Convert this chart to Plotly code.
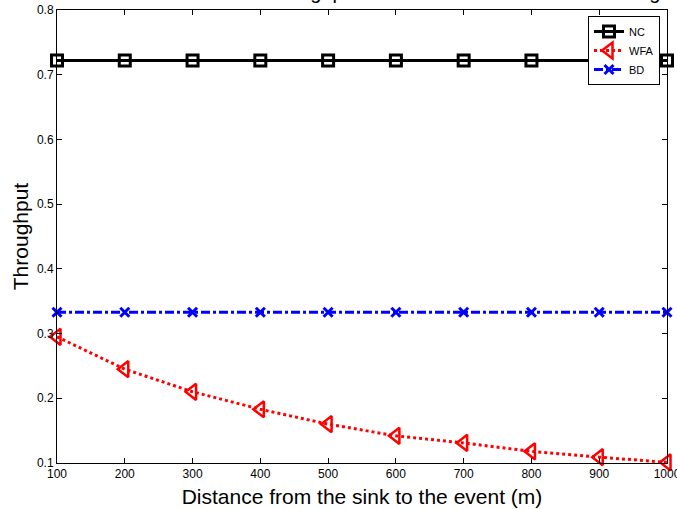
import plotly.graph_objects as go

distance = [100, 200, 300, 400, 500, 600, 700, 800, 900, 1000]
nc = [0.722] * 10
wfa = [0.295, 0.245, 0.210, 0.183, 0.160, 0.142, 0.131, 0.118, 0.109, 0.101]
bd = [0.333] * 10
x_ticks = [100, 200, 300, 400, 500, 600, 700, 800, 900, 1000]
y_ticks = [0.1, 0.2, 0.3, 0.4, 0.5, 0.6, 0.7, 0.8]

FONT = "Liberation Sans, Arial, sans-serif"

fig = go.Figure()
fig.add_trace(go.Scatter(
    x=distance, y=nc, name="NC", mode="lines+markers",
    line=dict(color="black", width=3, dash="solid"),
    marker=dict(symbol="square-open", size=11, color="black", line=dict(width=3)),
    cliponaxis=False))
fig.add_trace(go.Scatter(
    x=distance, y=wfa, name="WFA", mode="lines+markers",
    line=dict(color="red", width=3, dash="dot"),
    marker=dict(symbol="triangle-left-open", size=14, color="red", line=dict(width=2.5)),
    cliponaxis=False))
fig.add_trace(go.Scatter(
    x=distance, y=bd, name="BD", mode="lines+markers",
    line=dict(color="blue", width=3, dash="dashdot"),
    marker=dict(symbol="x-thin-open", size=9, color="blue", line=dict(width=3, color="blue")),
    cliponaxis=False))

fig.add_annotation(
    text="Throughput versus the distance for the changing event range",
    xref="paper", yref="paper", x=(256 - 57) / 610, y=1 + 5 / 453,
    xanchor="left", yanchor="bottom", showarrow=False,
    font=dict(family=FONT, size=20, color="black"))

axis_common = dict(
    showline=True, linecolor="black", linewidth=1, mirror="ticks",
    ticks="inside", ticklen=5, tickcolor="black", showgrid=False, zeroline=False,
    ticklabeloverflow="allow",
    tickfont=dict(family=FONT, size=12, color="black"))

fig.update_xaxes(range=[100, 1000], tickvals=x_ticks, ticktext=[str(v) for v in x_ticks],
                 title=dict(text="Distance from the sink to the event (m)",
                            font=dict(family=FONT, size=21, color="black"), standoff=8),
                 **axis_common)
fig.update_yaxes(range=[0.1, 0.8], tickvals=y_ticks, ticktext=[f"{v:.1f}" for v in y_ticks],
                 title=dict(text="Throughput", font=dict(family=FONT, size=21, color="black"),
                            standoff=2),
                 **axis_common)

fig.update_layout(
    width=677, height=509,
    margin=dict(l=57, r=10, t=10, b=46, autoexpand=False),
    paper_bgcolor="white", plot_bgcolor="white",
    font=dict(family=FONT, color="black"),
    legend=dict(x=(660 - 57) / 610, y=1 - 6 / 453, xanchor="right", yanchor="top",
                bgcolor="white", bordercolor="black", borderwidth=1,
                font=dict(family=FONT, size=11, color="black"),
                itemwidth=30, tracegroupgap=0),
    showlegend=True)

fig.write_html("out.html", config={"displayModeBar": False},
               post_script="document.body.style.margin='0';document.body.style.overflow='hidden';")
